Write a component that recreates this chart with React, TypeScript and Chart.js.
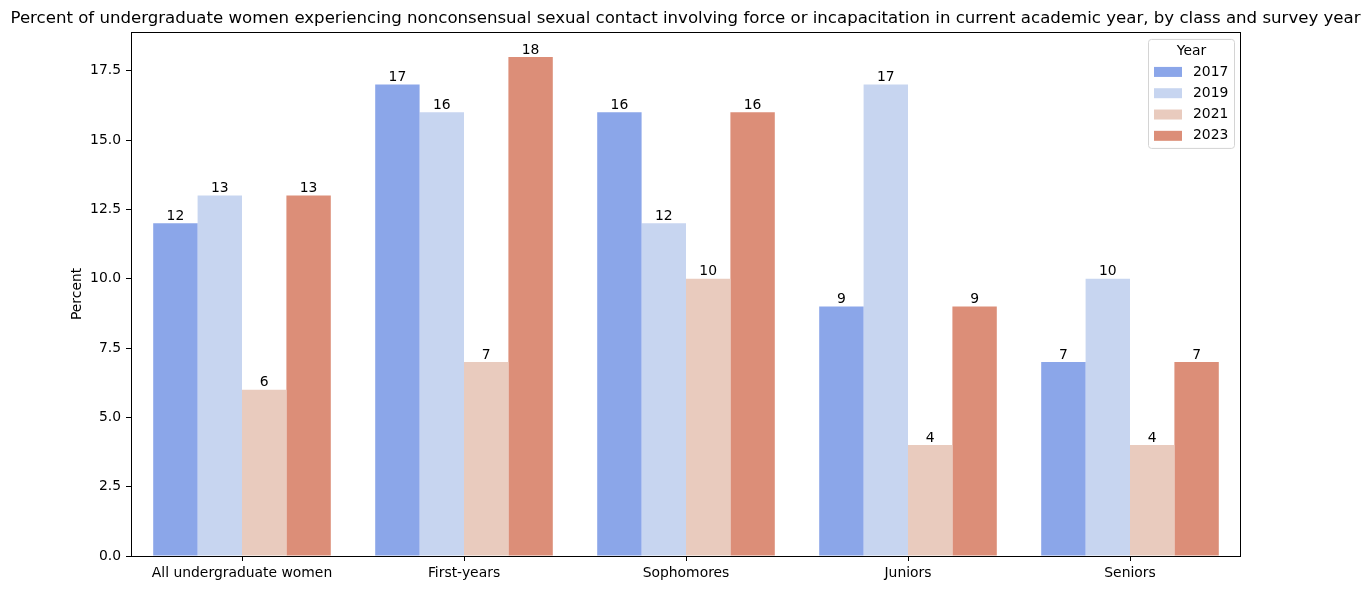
import React, { useEffect, useRef } from "react";
import { Chart, registerables } from "chart.js";

Chart.register(...registerables);

const categories = ["All undergraduate women", "First-years", "Sophomores", "Juniors", "Seniors"];
const years = ["2017", "2019", "2021", "2023"];
const values2017 = [12, 17, 16, 9, 7];
const values2019 = [13, 16, 12, 17, 10];
const values2021 = [6, 7, 10, 4, 4];
const values2023 = [13, 18, 16, 9, 7];
const seriesValues = [values2017, values2019, values2021, values2023];
const yTickValues = [0, 2.5, 5, 7.5, 10, 12.5, 15, 17.5];
const colors = ["#8ba6e9", "#c7d5f0", "#e9cbbe", "#dc8e78"];

const FONT = "'DejaVu Sans', sans-serif";
const TITLE =
  "Percent of undergraduate women experiencing nonconsensual sexual contact involving force or incapacitation in current academic year, by class and survey year";

const framePlugin = {
  id: "frame",
  afterDatasetsDraw(chart: any) {
    const { ctx, chartArea } = chart;
    ctx.save();
    ctx.strokeStyle = "#000";
    ctx.lineWidth = 1;
    ctx.strokeRect(
      Math.round(chartArea.left) + 0.5,
      Math.round(chartArea.top) + 0.5,
      Math.round(chartArea.right - chartArea.left) - 1,
      Math.round(chartArea.bottom - chartArea.top)
    );
    ctx.restore();
  },
};

const barLabelPlugin = {
  id: "barLabels",
  afterDatasetsDraw(chart: any) {
    const { ctx } = chart;
    ctx.save();
    ctx.font = `13.9px ${FONT}`;
    ctx.fillStyle = "#000";
    ctx.textAlign = "center";
    ctx.textBaseline = "bottom";
    chart.data.datasets.forEach((ds: any, i: number) => {
      const meta = chart.getDatasetMeta(i);
      meta.data.forEach((bar: any, j: number) => {
        ctx.fillText(String(ds.data[j]), bar.x, bar.y);
      });
    });
    ctx.restore();
  },
};

const innerLegendPlugin = {
  id: "innerLegend",
  afterDraw(chart: any) {
    const { ctx, chartArea } = chart;
    const w = 86;
    const h = 109;
    const x = chartArea.right - 7 - w + 0.5;
    const y = chartArea.top + 7 + 0.5;
    ctx.save();
    ctx.beginPath();
    if (ctx.roundRect) ctx.roundRect(x, y, w, h, 3);
    else ctx.rect(x, y, w, h);
    ctx.fillStyle = "rgba(255,255,255,0.8)";
    ctx.fill();
    ctx.strokeStyle = "#d4d4d4";
    ctx.lineWidth = 1;
    ctx.stroke();
    ctx.font = `13.9px ${FONT}`;
    ctx.fillStyle = "#000";
    ctx.textAlign = "center";
    ctx.textBaseline = "middle";
    ctx.fillText("Year", x + w / 2, y + 11.5);
    chart.data.datasets.forEach((ds: any, i: number) => {
      const cy = y + 32.5 + i * 21.3;
      ctx.fillStyle = ds.backgroundColor;
      ctx.fillRect(x + 5.5, cy - 5, 28, 10);
      ctx.fillStyle = "#000";
      ctx.textAlign = "left";
      ctx.fillText(ds.label, x + 44.5, cy);
    });
    ctx.restore();
  },
};

export default function App() {
  const canvasRef = useRef<HTMLCanvasElement | null>(null);

  useEffect(() => {
    document.body.style.margin = "0";
    const canvas = canvasRef.current;
    if (!canvas) return;
    const chart = new Chart(canvas, {
      type: "bar",
      data: {
        labels: categories,
        datasets: years.map((yr, i) => ({
          label: yr,
          data: seriesValues[i],
          backgroundColor: colors[i],
          borderWidth: 0,
          categoryPercentage: 0.8,
          barPercentage: 1.0,
          yAxisID: "y",
        })),
      },
      options: {
        responsive: false,
        animation: false,
        devicePixelRatio: 1,
        layout: { padding: { left: 0, right: 0, top: 0, bottom: 0 } },
        plugins: {
          legend: { display: false },
          tooltip: { enabled: false },
          title: {
            display: true,
            text: TITLE,
            color: "#000",
            font: { family: FONT, size: 16.6, weight: "normal" },
            padding: { top: 9, bottom: 3 },
          },
        },
        scales: {
          x: {
            type: "category",
            offset: true,
            grid: {
              display: true,
              offset: false,
              drawOnChartArea: false,
              drawTicks: true,
              tickLength: 5,
              color: "#000",
              lineWidth: 1,
            },
            border: { display: false },
            ticks: {
              color: "#000",
              font: { family: FONT, size: 13.9 },
              padding: 4,
              maxRotation: 0,
              autoSkip: false,
            },
            afterFit(scale: any) {
              scale.height = 34;
            },
          },
          y: {
            type: "linear",
            position: "left",
            min: 0,
            max: 18.9,
            grid: {
              display: true,
              drawOnChartArea: false,
              drawTicks: true,
              tickLength: 5,
              color: "#000",
              lineWidth: 1,
            },
            border: { display: false },
            ticks: {
              stepSize: 2.5,
              includeBounds: false,
              color: "#000",
              font: { family: FONT, size: 13.9 },
              padding: 5,
              callback: (v: any) => Number(v).toFixed(1),
            },
            afterBuildTicks(scale: any) {
              scale.ticks = yTickValues.map((v) => ({ value: v }));
            },
            afterFit(scale: any) {
              scale.width = 131;
            },
            title: {
              display: true,
              text: "Percent",
              color: "#000",
              font: { family: FONT, size: 13.9 },
              padding: { top: 69, bottom: 0 },
            },
          },
          yRightSpace: {
            type: "linear",
            position: "right",
            display: true,
            min: 0,
            max: 18.9,
            grid: { display: false, drawOnChartArea: false, drawTicks: false },
            border: { display: false },
            ticks: { display: false },
            afterFit(scale: any) {
              scale.width = 130;
            },
          },
        },
      },
      plugins: [framePlugin, barLabelPlugin, innerLegendPlugin],
    });
    return () => chart.destroy();
  }, []);

  return (
    <div style={{ position: "absolute", left: 0, top: 0, width: 1371, height: 590, background: "#fff" }}>
      <canvas ref={canvasRef} width={1371} height={590} style={{ width: 1371, height: 590, display: "block" }} />
    </div>
  );
}
